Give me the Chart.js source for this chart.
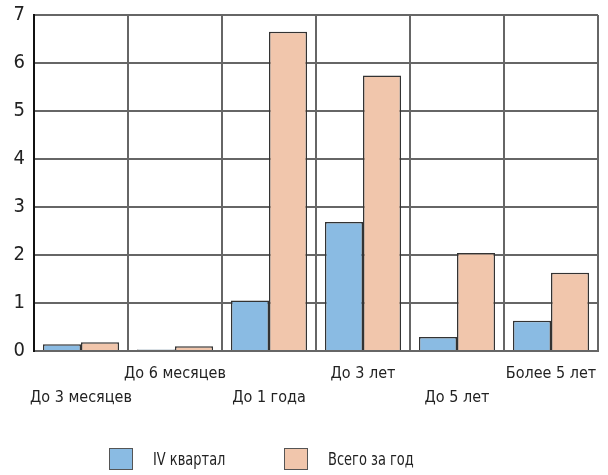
<!DOCTYPE html>
<html lang="ru">
<head>
    <meta charset="UTF-8">
    <title>Сроки</title>
    <script src="https://cdn.jsdelivr.net/npm/chart.js"></script>
    <style>
        body { margin: 0; background: #fff; font-family: 'Liberation Sans Narrow', 'DejaVu Sans Condensed', sans-serif; }
        #wrap { position: relative; width: 608px; height: 475px; }
        #c { position: absolute; left: 0; top: 0; }
        .lg { position: absolute; top: 447px; height: 24px; display: flex; align-items: center; font-size: 17px; color: #222; }
        .lg span.box { display: inline-block; width: 24px; height: 22px; border: 1px solid #555; box-sizing: border-box; margin-right: 20px; }
        .lg span.t { display: inline-block; transform: scaleX(0.85); transform-origin: left center; }
    </style>
</head>
<body>
<div id="wrap">
    <canvas id="c" width="608" height="475"></canvas>
    <div class="lg" style="left:109px"><span class="box" id="box0"></span><span class="t" id="lab0"></span></div>
    <div class="lg" style="left:284px"><span class="box" id="box1"></span><span class="t" id="lab1"></span></div>
</div>
<script>
    // categories (staggered labels: two rows)
    const categories = ['До 3 месяцев', 'До 6 месяцев', 'До 1 года', 'До 3 лет', 'До 5 лет', 'Более 5 лет'];
    const quarterValues = [0.14, 0.03, 1.05, 2.69, 0.29, 0.63];
    const yearValues = [0.18, 0.10, 6.65, 5.74, 2.04, 1.63];
    const seriesNames = ['IV квартал', 'Всего за год'];
    const seriesColors = ['#8abbe3', '#f1c6ac'];
    const yTicks = [0, 1, 2, 3, 4, 5, 6, 7];

    const FONT = "'Liberation Sans Narrow', 'DejaVu Sans Condensed', sans-serif";

    // odd categories go on the lower row, even on the upper row
    const labels = categories.map((c, i) => i % 2 === 0 ? ['', c] : [c, '']);

    seriesNames.forEach((n, i) => {
        document.getElementById('lab' + i).textContent = n;
        document.getElementById('box' + i).style.background = seriesColors[i];
    });

    new Chart(document.getElementById('c'), {
        type: 'bar',
        data: {
            labels: labels,
            datasets: [
                { label: seriesNames[0], data: quarterValues, backgroundColor: seriesColors[0], borderColor: '#333', borderWidth: 1.5 },
                { label: seriesNames[1], data: yearValues, backgroundColor: seriesColors[1], borderColor: '#333', borderWidth: 1.5 }
            ]
        },
        options: {
            responsive: false,
            animation: false,
            layout: { padding: { top: 15, right: 10, bottom: 0, left: 0 } },
            datasets: { bar: { barPercentage: 1, categoryPercentage: 0.81 } },
            plugins: { legend: { display: false }, tooltip: { enabled: false } },
            scales: {
                x: {
                    grid: { offset: true, color: '#666', lineWidth: 2, drawTicks: false },
                    border: { display: true, color: '#666', width: 2 },
                    ticks: {
                        color: '#222', padding: 10, maxRotation: 0, autoSkip: false,
                        font: { family: FONT, size: 16, lineHeight: 1.55 }
                    },
                    afterFit: s => { s.height = 124; s.paddingLeft = 0; s.paddingRight = 0; }
                },
                y: {
                    min: 0, max: 7,
                    afterBuildTicks: s => { s.ticks = yTicks.map(v => ({ value: v })); },
                    grid: { color: '#666', lineWidth: 2, drawTicks: false },
                    border: { display: true, color: '#111', width: 2 },
                    ticks: { color: '#222', padding: 9, font: { family: FONT, size: 20, lineHeight: 1 } },
                    afterFit: s => { s.width = 34; s.paddingTop = 0; s.paddingBottom = 0; }
                }
            }
        }
    });
</script>
</body>
</html>
